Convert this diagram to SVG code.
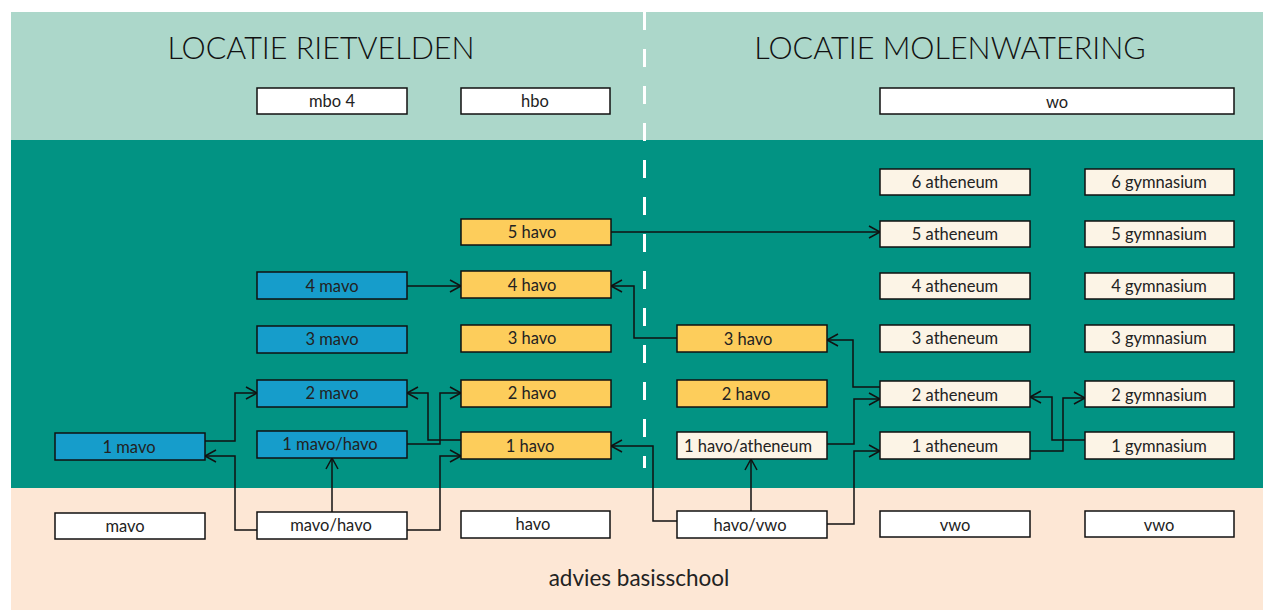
<svg xmlns="http://www.w3.org/2000/svg" width="1263" height="611" viewBox="0 0 1263 611">
<style>
.b rect{stroke:#111;stroke-width:1.5}
.b text{font-family:Lato,"Open Sans",sans-serif;font-size:16.5px;fill:#222;text-anchor:middle}
.blue rect{fill:#169dcb}
.yel rect{fill:#fdcd5b}
.cr rect{fill:#fcf4e6}
.wh rect{fill:#fff}
.title{font-family:Lato,"Open Sans",sans-serif;font-size:30.5px;fill:#111;text-anchor:middle;font-weight:300}
.c path{fill:none;stroke:#111;stroke-width:1.5}
</style>
<defs>
<marker id="ar" markerUnits="userSpaceOnUse" markerWidth="14" markerHeight="14" refX="12" refY="7" orient="auto">
<path d="M1,1 L12,7 L1,13" fill="none" stroke="#111" stroke-width="1.5"/>
</marker>
</defs>
<rect x="0" y="0" width="1263" height="611" fill="#fff"/>
<rect x="11" y="12" width="1252" height="128" fill="#acd7ca"/>
<rect x="11" y="140" width="1252" height="348" fill="#029383"/>
<rect x="11" y="488" width="1252" height="122" fill="#fde7d5"/>
<line x1="644.5" y1="12" x2="644.5" y2="468" stroke="#fff" stroke-width="3" stroke-dasharray="18 19"/>
<text class="title" x="321" y="59">LOCATIE RIETVELDEN</text>
<text class="title" x="950" y="59">LOCATIE MOLENWATERING</text>
<text x="639" y="586" style="font-family:Lato,'Open Sans',sans-serif;font-size:22.5px;fill:#222;text-anchor:middle">advies basisschool</text>

<g class="c">
<path d="M205,441 H235 V393 H257" marker-end="url(#ar)"/>
<path d="M257,530 H235 V456 H205" marker-end="url(#ar)"/>
<path d="M332,512 V458" marker-end="url(#ar)"/>
<path d="M407,444 H440 V393 H461" marker-end="url(#ar)"/>
<path d="M407,530 H440 V456 H461" marker-end="url(#ar)"/>
<path d="M461,440 H428 V393 H407" marker-end="url(#ar)"/>
<path d="M677,521 H653 V446 H611" marker-end="url(#ar)"/>
<path d="M751,511 V459" marker-end="url(#ar)"/>
<path d="M827,444 H854 V399 H880" marker-end="url(#ar)"/>
<path d="M827,524 H854 V451 H880" marker-end="url(#ar)"/>
<path d="M880,387 H853 V340 H827" marker-end="url(#ar)"/>
<path d="M677,338 H634 V286 H611" marker-end="url(#ar)"/>
<path d="M611,232 H880" marker-end="url(#ar)"/>
<path d="M407,286 H461" marker-end="url(#ar)"/>
<path d="M1030,451 H1063 V398 H1085" marker-end="url(#ar)"/>
<path d="M1085,440 H1052 V397 H1030" marker-end="url(#ar)"/>
</g>

<g id="mbo4" class="b wh"><rect x="257" y="88" width="150" height="26"/><text x="332" y="107">mbo 4</text></g>
<g id="hbo" class="b wh"><rect x="461" y="88" width="149" height="26"/><text x="535" y="107">hbo</text></g>
<g id="wo" class="b wh"><rect x="880" y="88" width="354" height="26"/><text x="1057" y="108">wo</text></g>

<g id="ath6" class="b cr"><rect x="880" y="169" width="150" height="26"/><text x="955" y="188">6 atheneum</text></g>
<g id="gym6" class="b cr"><rect x="1085" y="169" width="149" height="26"/><text x="1159" y="188">6 gymnasium</text></g>
<g id="havo5" class="b yel"><rect x="461" y="219" width="150" height="26"/><text x="532" y="238">5 havo</text></g>
<g id="ath5" class="b cr"><rect x="880" y="221" width="150" height="26"/><text x="955" y="240">5 atheneum</text></g>
<g id="gym5" class="b cr"><rect x="1085" y="221" width="149" height="26"/><text x="1159" y="240">5 gymnasium</text></g>

<g id="mavo4" class="b blue"><rect x="257" y="272" width="150" height="27"/><text x="332" y="292">4 mavo</text></g>
<g id="havo4" class="b yel"><rect x="461" y="271" width="150" height="27"/><text x="532" y="291">4 havo</text></g>
<g id="ath4" class="b cr"><rect x="880" y="273" width="150" height="26"/><text x="955" y="292">4 atheneum</text></g>
<g id="gym4" class="b cr"><rect x="1085" y="273" width="149" height="26"/><text x="1159" y="292">4 gymnasium</text></g>

<g id="mavo3" class="b blue"><rect x="257" y="326" width="150" height="27"/><text x="332" y="345">3 mavo</text></g>
<g id="havo3" class="b yel"><rect x="461" y="325" width="150" height="27"/><text x="532" y="344">3 havo</text></g>
<g id="havo3m" class="b yel"><rect x="677" y="325" width="150" height="27"/><text x="748" y="345">3 havo</text></g>
<g id="ath3" class="b cr"><rect x="880" y="325" width="150" height="27"/><text x="955" y="344">3 atheneum</text></g>
<g id="gym3" class="b cr"><rect x="1085" y="325" width="149" height="27"/><text x="1159" y="344">3 gymnasium</text></g>

<g id="mavo2" class="b blue"><rect x="257" y="380" width="150" height="27"/><text x="332" y="399">2 mavo</text></g>
<g id="havo2" class="b yel"><rect x="461" y="380" width="150" height="27"/><text x="532" y="399">2 havo</text></g>
<g id="havo2m" class="b yel"><rect x="677" y="380" width="150" height="27"/><text x="746" y="400">2 havo</text></g>
<g id="ath2" class="b cr"><rect x="880" y="381" width="150" height="26"/><text x="955" y="401">2 atheneum</text></g>
<g id="gym2" class="b cr"><rect x="1085" y="381" width="149" height="26"/><text x="1159" y="401">2 gymnasium</text></g>

<g id="mavo1" class="b blue"><rect x="55" y="433" width="150" height="27"/><text x="129" y="453">1 mavo</text></g>
<g id="mavohavo1" class="b blue"><rect x="257" y="431" width="150" height="27"/><text x="330" y="450">1 mavo/havo</text></g>
<g id="havo1" class="b yel"><rect x="461" y="432" width="150" height="27"/><text x="530" y="452">1 havo</text></g>
<g id="havoath1" class="b cr"><rect x="677" y="432" width="150" height="27"/><text x="748" y="452">1 havo/atheneum</text></g>
<g id="ath1" class="b cr"><rect x="880" y="432" width="150" height="27"/><text x="955" y="452">1 atheneum</text></g>
<g id="gym1" class="b cr"><rect x="1085" y="432" width="149" height="27"/><text x="1159" y="452">1 gymnasium</text></g>

<g id="mavo" class="b wh"><rect x="55" y="513" width="150" height="26"/><text x="125" y="532">mavo</text></g>
<g id="mavohavo" class="b wh"><rect x="257" y="512" width="150" height="27"/><text x="331" y="531">mavo/havo</text></g>
<g id="havo" class="b wh"><rect x="461" y="511" width="149" height="27"/><text x="533" y="530">havo</text></g>
<g id="havovwo" class="b wh"><rect x="677" y="511" width="150" height="27"/><text x="750" y="531">havo/vwo</text></g>
<g id="vwo1" class="b wh"><rect x="880" y="511" width="150" height="26"/><text x="955" y="531">vwo</text></g>
<g id="vwo2" class="b wh"><rect x="1085" y="511" width="149" height="26"/><text x="1159" y="531">vwo</text></g>
</svg>
